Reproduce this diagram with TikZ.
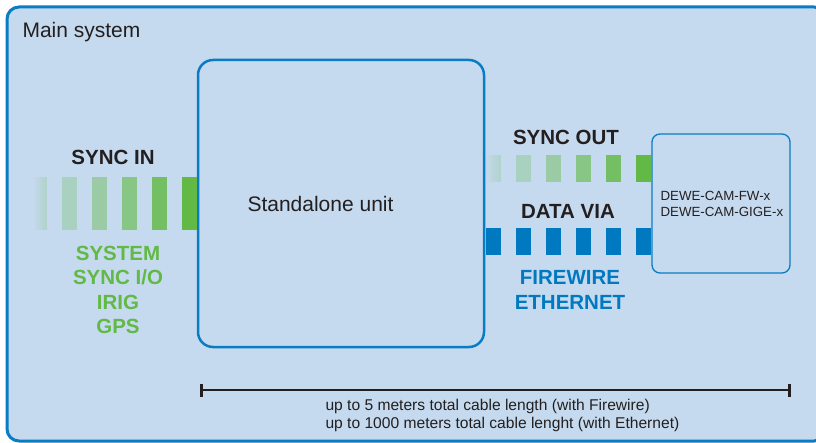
\documentclass[tikz,border=0pt]{standalone}
\usepackage{fontspec}
\setmainfont{Liberation Sans}
\usetikzlibrary{arrows.meta,positioning}
\definecolor{panelbg}{HTML}{C5DAEE}
\definecolor{frameblue}{HTML}{0A7CC3}
\definecolor{syncgreen}{HTML}{62B946}
\definecolor{datablue}{HTML}{0079C1}
\definecolor{inkdark}{HTML}{231F20}

\begin{document}
\begin{tikzpicture}[x=1pt, y=-1pt,
    box/.style={draw=frameblue, fill=panelbg, rounded corners=#1, inner sep=0pt},
    hdr/.style={text=inkdark, font=\fontsize{20.5}{24}\selectfont\bfseries},
    listgreen/.style={text=syncgreen, align=center, font=\fontsize{20.5}{24.3}\selectfont\bfseries},
    listblue/.style={text=datablue, align=center, font=\fontsize{20.5}{25}\selectfont\bfseries},
    plain/.style={text=inkdark, font=\fontsize{21}{24}\selectfont},
    small/.style={text=inkdark, align=left, font=\fontsize{13.3}{16}\selectfont},
    note/.style={text=inkdark, align=left, font=\fontsize{15.6}{18}\selectfont}]
    \useasboundingbox (0,0) rectangle (816,443);
    \clip (0,0) rectangle (816,443);
    \draw[frameblue, line width=3pt, fill=panelbg, rounded corners=12pt] (7,7) rectangle (826,441);
    \node[plain, anchor=west] (main) at (19,32) {Main system};

    % units
    \node[box=15pt, line width=2.5pt, minimum width=286pt, minimum height=287pt] (unit) at (341,203.5) {};
    \node[plain, anchor=west] (unitlbl) at (244,204) {Standalone unit};
    \node[box=8pt, line width=1.3pt, minimum width=138pt, minimum height=139pt] (cam) at (721,203.5) {};
    \node[small, anchor=west] (camlbl) at (657,204) {DEWE-CAM-FW-x\\DEWE-CAM-GIGE-x};

    % sync in / sync out / data bars
    \foreach \i/\pct in {0/100,1/82,2/62,3/44,4/28} {
        \fill[syncgreen!\pct!panelbg] (unit.west) ++({-30*\i-15},-26.5) rectangle ++(15,53);
        \fill[syncgreen!\pct!panelbg] (cam.west) ++({-30*\i-15},-48.5) rectangle ++(15,27);
    }
    % faded last bars
    \foreach \k [evaluate=\k as \pct using int(2+1.6*\k)] in {0,...,12} {
        \fill[syncgreen!\pct!panelbg] (unit.west) ++({-163+\k},-26.5) rectangle ++(1.05,53);
        \fill[syncgreen!\pct!panelbg] (cam.west) ++({-165+1.15*\k},-48.5) rectangle ++(1.2,27);
    }
    \foreach \i in {0,...,5}
        \fill[datablue] (cam.west) ++({-30*\i-15},25) rectangle ++(15,27);

    \node[hdr] (syncin) at (113,157) {SYNC IN};
    \node[listgreen] (synclist) at (118,290) {SYSTEM\\SYNC I/O\\IRIG\\GPS};
    \node[hdr] (syncout) at (566,137) {SYNC OUT};
    \node[hdr] (datavia) at (568,211) {DATA VIA};
    \node[listblue] (datalist) at (570,290) {FIREWIRE\\ETHERNET};

    % cable length
    \coordinate (dimL) at (200,390);
    \coordinate (dimR) at (791,390);
    \draw[inkdark, line width=2.6pt, {Bar[width=13pt]}-{Bar[width=13pt]}] (dimL) -- (dimR);
    \node[note, anchor=west] (cablenote) at (322,415) {up to 5 meters total cable length (with Firewire)\\up to 1000 meters total cable lenght (with Ethernet)};
\end{tikzpicture}
\end{document}
